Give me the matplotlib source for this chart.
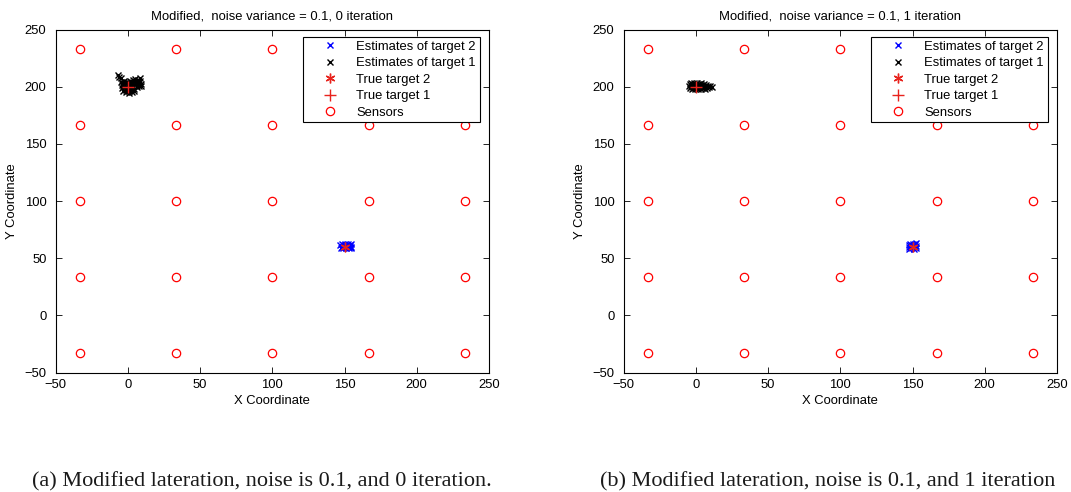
import matplotlib
matplotlib.use("Agg")
import matplotlib.pyplot as plt

plt.rcParams['font.family'] = ['Liberation Sans', 'DejaVu Sans']

# Sensor grid coordinates (5 x 5)
sensor_coords = [-33.33, 33.33, 100.0, 166.67, 233.33]

# True target positions
true_t1 = (0.0, 200.0)
true_t2 = (150.0, 60.0)

# Panel (a): 0 iterations
a_est1_x = [-7.0, -5.8, -4.6, -4.8, -4.2, -3.8, -3.0, -2.6, -2.0, -1.8, -1.5, -1.0,
            -0.6, 0.0, 0.3, 0.6, 1.0, 1.4, 1.8, 2.1, 2.4, 2.8, 3.3, 3.6, 3.9, 4.2,
            4.6, 5.2, 5.5, 5.9, 6.2, 6.8, 7.2, 7.6, 8.3, 8.6, 9.0, 9.5, -3.4, 0.9]
a_est1_y = [210.0, 208.6, 207.2, 204.0, 201.5, 198.6, 196.0, 205.2, 202.8, 200.1, 197.4, 195.0,
            204.0, 201.6, 199.0, 196.3, 194.4, 205.0, 202.4, 199.8, 197.2, 195.1, 206.0, 203.5, 200.8, 198.3,
            196.2, 207.0, 204.4, 201.9, 199.6, 206.2, 203.6, 201.0, 207.6, 205.0, 202.4, 200.6, 203.0, 203.0]
a_est2_x = [147.2, 147.5, 148.3, 148.6, 148.8, 149.6, 149.9, 150.4, 150.7, 151.0,
            151.6, 151.9, 152.5, 152.8, 153.0, 153.6, 153.9, 154.6, 154.8, 154.5]
a_est2_y = [61.5, 59.0, 62.3, 60.2, 58.5, 61.6, 59.4, 62.4, 60.6, 58.7,
            61.8, 59.6, 62.2, 60.3, 58.6, 61.5, 59.5, 62.0, 60.1, 58.7]

# Panel (b): 1 iteration
b_est1_x = [-5.0, -4.2, -4.0, -3.2, -3.0, -2.8, -2.0, -1.8, -1.0, -0.8, -0.5, 0.2,
            0.5, 1.2, 1.4, 1.6, 2.4, 2.6, 3.3, 3.6, 3.8, 4.6, 4.9, 5.8, 6.0, 6.3,
            7.2, 7.6, 8.6, 9.4, 10.2, 11.0]
b_est1_y = [200.2, 202.0, 198.6, 203.2, 200.8, 197.8, 201.9, 199.2, 203.6, 200.4, 197.6, 202.2,
            199.0, 203.4, 200.8, 197.9, 202.1, 199.3, 203.0, 200.5, 198.1, 201.8, 199.2, 202.4, 200.0, 198.3,
            201.4, 199.1, 200.6, 199.4, 200.2, 199.6]
b_est2_x = [147.6, 147.8, 147.7, 148.6, 148.8, 149.0, 149.8, 150.0, 150.2, 150.9,
            151.0, 151.6, 151.8, 152.3, 152.4, 152.2]
b_est2_y = [61.8, 59.8, 58.3, 62.6, 60.6, 58.7, 61.9, 59.6, 62.8, 60.8,
            58.4, 62.2, 59.7, 61.0, 58.6, 62.9]

titles = ["Modified,  noise variance = 0.1, 0 iteration",
          "Modified,  noise variance = 0.1, 1 iteration"]
captions = ["(a) Modified lateration, noise is 0.1, and 0 iteration.",
            "(b) Modified lateration, noise is 0.1, and 1 iteration"]
ticks = [-50, 0, 50, 100, 150, 200, 250]

W, H = 1071, 492
FS = 9.4
fig = plt.figure(figsize=(W / 100, H / 100), dpi=100)

panels = [(a_est1_x, a_est1_y, a_est2_x, a_est2_y),
          (b_est1_x, b_est1_y, b_est2_x, b_est2_y)]
lefts_px = [55.5, 623.5]
caption_x_px = [262, 828]

for i, (e1x, e1y, e2x, e2y) in enumerate(panels):
    ax = fig.add_axes([lefts_px[i] / W, 1 - 372.5 / H, 433.5 / W, 343 / H])
    h_e2, = ax.plot(e2x, e2y, 'x', color='blue', ms=4, mew=1.0, ls='none', zorder=2)
    h_e1, = ax.plot(e1x, e1y, 'x', color='black', ms=4, mew=1.0, ls='none', zorder=2)
    h_t2, = ax.plot([true_t2[0]], [true_t2[1]], marker=(6, 2, 0), color='#e8231d',
                    ms=7, mew=1.0, ls='none', zorder=3)
    h_t1, = ax.plot([true_t1[0]], [true_t1[1]], '+', color='#e8231d',
                    ms=8, mew=1.0, ls='none', zorder=3)
    sx = [x for y in sensor_coords for x in sensor_coords]
    sy = [y for y in sensor_coords for x in sensor_coords]
    h_s, = ax.plot(sx, sy, 'o', mfc='none', mec='red', ms=6, mew=0.9, ls='none', zorder=2)

    ax.set_xlim(-50, 250)
    ax.set_ylim(-50, 250)
    ax.set_xticks(ticks)
    ax.set_yticks(ticks)
    ax.tick_params(direction='in', length=4, width=0.6, top=True, right=True,
                   labelsize=FS)
    ax.tick_params(axis='x', pad=4.5)
    ax.tick_params(axis='y', pad=6.5)
    for sp in ax.spines.values():
        sp.set_linewidth(0.8)
    ax.set_title(titles[i], fontsize=FS, pad=7)
    ax.set_xlabel("X Coordinate", fontsize=FS, labelpad=3)
    ax.set_ylabel("Y Coordinate", fontsize=FS, labelpad=5)

    leg = ax.legend([h_e2, h_e1, h_t2, h_t1, h_s],
                    ["Estimates of target 2", "Estimates of target 1",
                     "True target 2", "True target 1", "Sensors"],
                    loc='upper right', bbox_to_anchor=(0.979, 0.979),
                    borderaxespad=0, fontsize=FS, fancybox=False, framealpha=1,
                    edgecolor='black', labelspacing=0.33, handlelength=3.6,
                    handletextpad=0.2, borderpad=0.3)
    leg.get_frame().set_linewidth(0.8)

    fig.text(caption_x_px[i] / W, 1 - 482 / H, captions[i], ha='center', va='center',
             fontsize=16, family=['Liberation Serif', 'DejaVu Serif'], color='#1a1a1a')

fig.savefig("out.png", dpi=100)
